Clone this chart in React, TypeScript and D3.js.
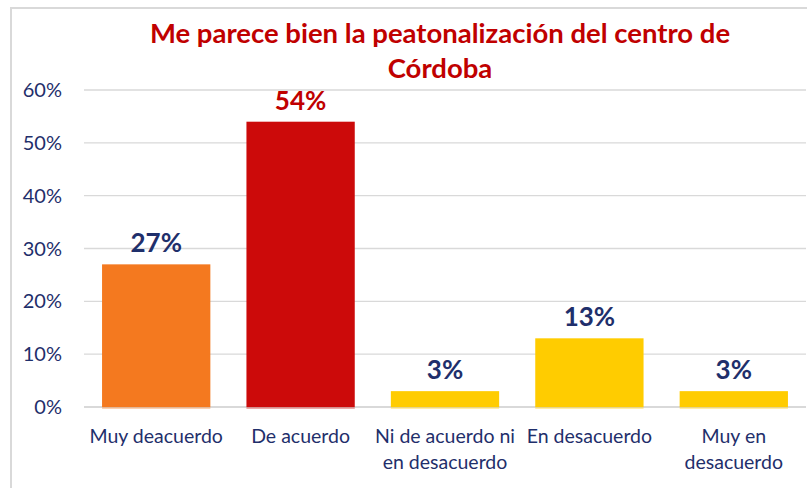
import React from 'react';
import * as d3 from 'd3';

const categories = ['Muy deacuerdo', 'De acuerdo', 'Ni de acuerdo ni|en desacuerdo', 'En desacuerdo', 'Muy en|desacuerdo'];
const values = [27, 54, 3, 13, 3];
const barColors = ['#F4791F', '#CC0A0A', '#FFCC00', '#FFCC00', '#FFCC00'];
const labelColors = ['#1F2F6B', '#C00000', '#1F2F6B', '#1F2F6B', '#1F2F6B'];
const yTicks = [0, 10, 20, 30, 40, 50, 60];
const titleLines = ['Me parece bien la peatonalización del centro de', 'Córdoba'];

const W = 807;
const H = 488;
const font = 'Lato, "Open Sans", sans-serif';

export default function App() {
  // plot area
  const x = d3.scaleBand<string>().domain(categories).range([84, 806]).paddingInner(0.25).paddingOuter(0.125);
  const y = d3.scaleLinear().domain([0, 60]).range([407, 90]);

  return (
    <svg width={W} height={H} style={{ position: 'absolute', left: 0, top: 0, background: '#fff' }}>
      <rect x={11} y={8} width={W} height={H} fill="#fff" stroke="#D9D9D9" strokeWidth={2} />

      {titleLines.map((t, i) => (
        <text key={i} x={440} y={43 + i * 35} textAnchor="middle" fill="#C00000"
          fontFamily={font} fontWeight="bold" fontSize={27.5}>{t}</text>
      ))}

      {yTicks.map(t => (
        <g key={t}>
          <line x1={84} x2={806} y1={y(t)} y2={y(t)} stroke="#D9D9D9" strokeWidth={t === 0 ? 2 : 1.3} />
          <text x={62} y={y(t) + 7} textAnchor="end" fill="#1F2F6B" fontFamily={font} fontSize={20}>{t}%</text>
        </g>
      ))}

      {values.map((v, i) => {
        const c = categories[i];
        const bx = x(c)!;
        const bw = x.bandwidth();
        return (
          <g key={c}>
            <rect x={bx} y={y(v)} width={bw} height={y(0) - y(v)} fill={barColors[i]} />
            <rect x={bx} y={y(0)} width={bw} height={2} fill={barColors[i]} opacity={0.35} />
            <text x={bx + bw / 2} y={y(v) - 12} textAnchor="middle" fill={labelColors[i]}
              fontFamily={font} fontWeight="bold" fontSize={26}>{v}%</text>
            {c.split('|').map((ln, j) => (
              <text key={j} x={bx + bw / 2} y={443 + j * 26} textAnchor="middle" fill="#1F2F6B"
                fontFamily={font} fontSize={19.5}>{ln}</text>
            ))}
          </g>
        );
      })}
    </svg>
  );
}
